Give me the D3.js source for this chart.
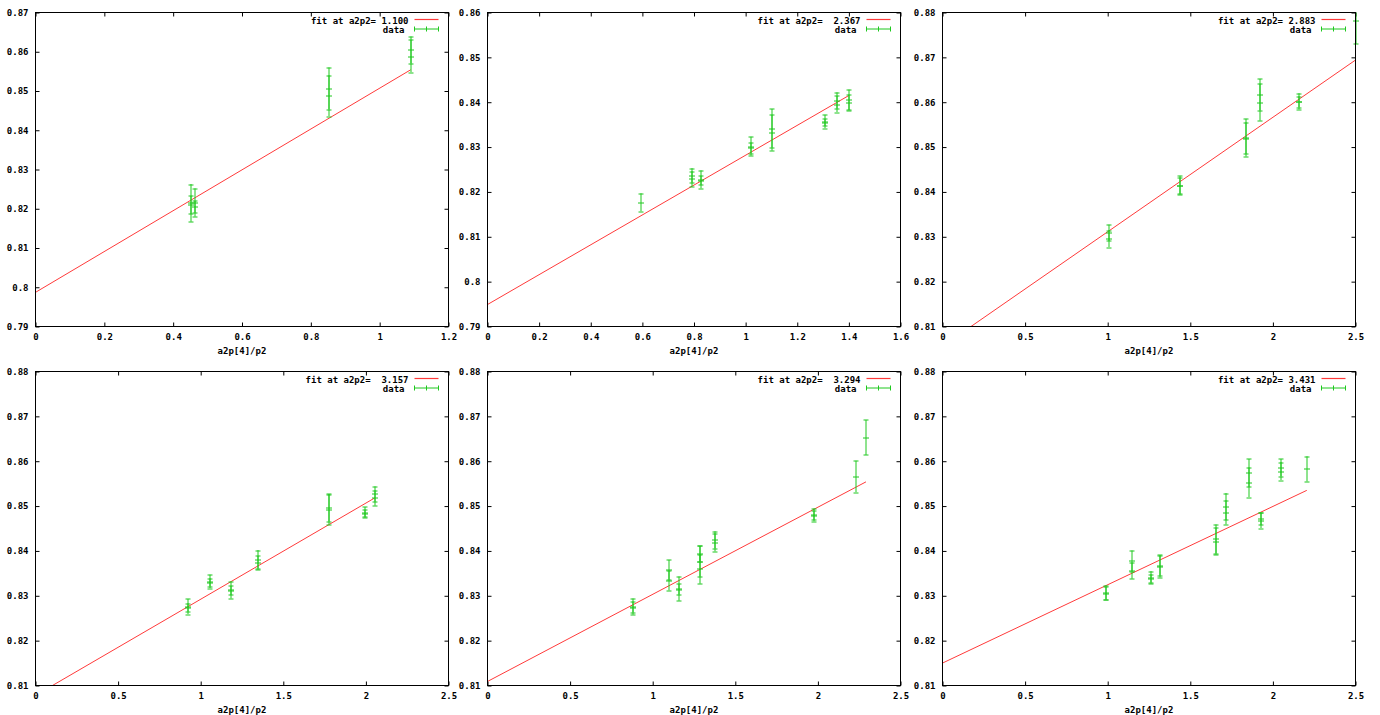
<!DOCTYPE html>
<html>
<head>
<meta charset="utf-8">
<script src="https://cdn.jsdelivr.net/npm/d3@7"></script>
<style>
  body { margin: 0; background: #fff; }
  text { font-family: "DejaVu Sans Mono", monospace; font-weight: bold; font-size: 9px; fill: #000; }
</style>
</head>
<body>
<svg id="chart" width="1380" height="715"></svg>
<script>
// [x, y, error] rows
var data1 = [[0.451, 0.8215, 0.0048], [0.451, 0.8210, 0.0023], [0.463, 0.8216, 0.0036], [0.463, 0.8205, 0.0015],
  [0.852, 0.8507, 0.0053], [0.852, 0.8488, 0.0052], [1.090, 0.8605, 0.0034], [1.090, 0.8589, 0.0041]]
var data2 = [[0.593, 0.8177, 0.0020], [0.790, 0.8237, 0.0016], [0.790, 0.8229, 0.0017], [0.827, 0.8228, 0.0020],
  [0.827, 0.8226, 0.0010], [1.019, 0.8302, 0.0021], [1.019, 0.8298, 0.0012], [1.100, 0.8342, 0.0043],
  [1.100, 0.8332, 0.0040], [1.306, 0.8357, 0.0015], [1.306, 0.8355, 0.0008], [1.353, 0.8404, 0.0018],
  [1.353, 0.8396, 0.0018], [1.398, 0.8405, 0.0023], [1.398, 0.8400, 0.0017]]
var data3 = [[1.002, 0.8309, 0.0018], [1.002, 0.8296, 0.0019], [1.436, 0.8415, 0.0021], [1.436, 0.8414, 0.0018],
  [1.836, 0.8521, 0.0042], [1.836, 0.8520, 0.0035], [1.917, 0.8617, 0.0035], [1.917, 0.8600, 0.0041],
  [2.157, 0.8602, 0.0018], [2.157, 0.8601, 0.0012], [2.500, 0.8782, 0.0052]]
var data4 = [[0.918, 0.8276, 0.0017], [0.918, 0.8274, 0.0009], [1.051, 0.8332, 0.0015], [1.051, 0.8330, 0.0009],
  [1.180, 0.8313, 0.0019], [1.180, 0.8312, 0.0010], [1.345, 0.8380, 0.0022], [1.345, 0.8375, 0.0014],
  [1.772, 0.8496, 0.0030], [1.772, 0.8493, 0.0034], [1.990, 0.8486, 0.0012], [1.990, 0.8484, 0.0008],
  [2.053, 0.8527, 0.0017], [2.053, 0.8518, 0.0017]]
var data5 = [[0.876, 0.8276, 0.0018], [0.876, 0.8275, 0.0012], [1.093, 0.8358, 0.0022], [1.093, 0.8334, 0.0022],
  [1.156, 0.8316, 0.0027], [1.156, 0.8315, 0.0012], [1.286, 0.8394, 0.0017], [1.286, 0.8377, 0.0034],
  [1.286, 0.8360, 0.0033], [1.377, 0.8425, 0.0019], [1.377, 0.8419, 0.0020], [1.975, 0.8482, 0.0013],
  [1.975, 0.8478, 0.0012], [2.225, 0.8566, 0.0035], [2.291, 0.8653, 0.0039]]
var data6 = [[0.988, 0.8307, 0.0016], [0.988, 0.8306, 0.0014], [1.146, 0.8378, 0.0023], [1.146, 0.8356, 0.0018],
  [1.261, 0.8341, 0.0014], [1.261, 0.8339, 0.0009], [1.315, 0.8368, 0.0023], [1.315, 0.8365, 0.0024],
  [1.654, 0.8427, 0.0032], [1.654, 0.8422, 0.0030], [1.711, 0.8499, 0.0030], [1.711, 0.8486, 0.0027],
  [1.850, 0.8574, 0.0031], [1.850, 0.8553, 0.0033], [1.923, 0.8472, 0.0014], [1.923, 0.8468, 0.0017],
  [2.048, 0.8586, 0.0019], [2.048, 0.8578, 0.0020], [2.205, 0.8583, 0.0028]]

// fit line end points
var fit1 = [[0, 0.7987], [1.090, 0.8554]]
var fit2 = [[0, 0.7949], [1.400, 0.8415]]
var fit3 = [[0, 0.8056], [2.500, 0.8694]]
var fit4 = [[0, 0.8078], [2.053, 0.8518]]
var fit5 = [[0, 0.8109], [2.291, 0.8554]]
var fit6 = [[0, 0.8150], [2.205, 0.8535]]

var fitLabels = ['fit at a2p2= 1.100', 'fit at a2p2=  2.367', 'fit at a2p2= 2.883',
  'fit at a2p2=  3.157', 'fit at a2p2=  3.294', 'fit at a2p2= 3.431']
var dataLabel = 'data'
var xLabel = 'a2p[4]/p2'

var xDomains = [[0, 1.2], [0, 1.6], [0, 2.5], [0, 2.5], [0, 2.5], [0, 2.5]]
var yDomains = [[0.79, 0.87], [0.79, 0.86], [0.81, 0.88], [0.81, 0.88], [0.81, 0.88], [0.81, 0.88]]
var xSteps = [0.2, 0.2, 0.5, 0.5, 0.5, 0.5]
var ySteps = [0.01, 0.01, 0.01, 0.01, 0.01, 0.01]

var allData = [data1, data2, data3, data4, data5, data6]
var allFits = [fit1, fit2, fit3, fit4, fit5, fit6]

var red = '#ff3a3a'
var green = '#1ec81e'

var lefts = [35, 487, 942]
var tops = [12, 371]
var width = 413
var height = 314

var svg = d3.select('#chart')

var fmt = d => String(+(+d).toFixed(3))
var ticksFor = (dom, step) => d3.range(Math.round((dom[1] - dom[0]) / step) + 1).map(i => +(dom[0] + i * step).toFixed(4))

allData.forEach((data, i) => {
  var left = lefts[i % 3]
  var top = tops[Math.floor(i / 3)]

  var x = d3.scaleLinear().domain(xDomains[i]).range([0, width])
  var y = d3.scaleLinear().domain(yDomains[i]).range([height, 0])
  var xt = ticksFor(xDomains[i], xSteps[i])
  var yt = ticksFor(yDomains[i], ySteps[i])

  var g = svg.append('g').attr('transform', `translate(${left + 0.5},${top + 0.5})`)

  // clip vertically to the plot box, leave a little room sideways for bars on the border
  g.append('clipPath').attr('id', 'clip' + i)
    .append('rect').attr('x', -4).attr('width', width + 8).attr('height', height)

  // axes with inward ticks on all four sides
  var styleAxis = sel => {
    sel.select('.domain').remove()
    sel.selectAll('line').attr('stroke', '#000')
    sel.selectAll('text').attr('fill', '#000')
  }
  g.append('g').attr('transform', `translate(0,${height})`)
    .call(d3.axisBottom(x).tickValues(xt).tickFormat(fmt).tickSizeInner(-4).tickSizeOuter(0).tickPadding(7))
    .call(styleAxis)
    .attr('font-size', null).attr('font-family', null)
  g.append('g')
    .call(d3.axisTop(x).tickValues(xt).tickFormat('').tickSizeInner(-4).tickSizeOuter(0))
    .call(styleAxis)
  g.append('g')
    .call(d3.axisLeft(y).tickValues(yt).tickFormat(fmt).tickSizeInner(-4).tickSizeOuter(0).tickPadding(7))
    .call(styleAxis)
    .attr('font-size', null).attr('font-family', null)
  g.append('g').attr('transform', `translate(${width},0)`)
    .call(d3.axisRight(y).tickValues(yt).tickFormat('').tickSizeInner(-4).tickSizeOuter(0))
    .call(styleAxis)

  g.append('text').text(xLabel)
    .attr('x', width / 2).attr('y', height + 27)
    .attr('text-anchor', 'middle')

  // fit line
  var plot = g.append('g').attr('clip-path', `url(#clip${i})`)
  plot.append('path')
    .attr('d', d3.line().x(d => x(d[0])).y(d => y(d[1]))(allFits[i]))
    .attr('fill', 'none').attr('stroke', red).attr('stroke-width', 1)

  // error bars
  var bars = plot.selectAll('g.bar').data(data).join('g').attr('class', 'bar')
    .attr('stroke', green).attr('stroke-width', 1).attr('fill', 'none')
  bars.append('path').attr('d', d => {
    var px = Math.round(x(d[0])) + 0.5
    var y0 = y(d[1] - d[2]), y1 = y(d[1] + d[2]), yc = Math.round(y(d[1])) + 0.5
    return `M${px},${y0}V${y1}M${px - 2.5},${Math.round(y0) + 0.5}h5M${px - 2.5},${Math.round(y1) + 0.5}h5M${px - 3},${yc}h6`
  })

  g.append('rect').attr('width', width).attr('height', height)
    .attr('fill', 'none').attr('stroke', '#000').attr('stroke-width', 1)

  // legend
  var lx = width - 40
  g.append('text').text(fitLabels[i]).attr('x', lx).attr('y', 11)
    .attr('text-anchor', 'end').style('white-space', 'pre')
  g.append('path').attr('d', `M${lx + 6},7h24`)
    .attr('stroke', red).attr('stroke-width', 1.2).attr('fill', 'none')
  g.append('text').text(dataLabel).attr('x', lx - 4).attr('y', 20)
    .attr('text-anchor', 'end')
  g.append('path')
    .attr('d', `M${lx + 6},16.5h24M${lx + 6},14v5M${lx + 30},14v5M${lx + 18},14v5`)
    .attr('stroke', green).attr('fill', 'none')
})
</script>
</body>
</html>
